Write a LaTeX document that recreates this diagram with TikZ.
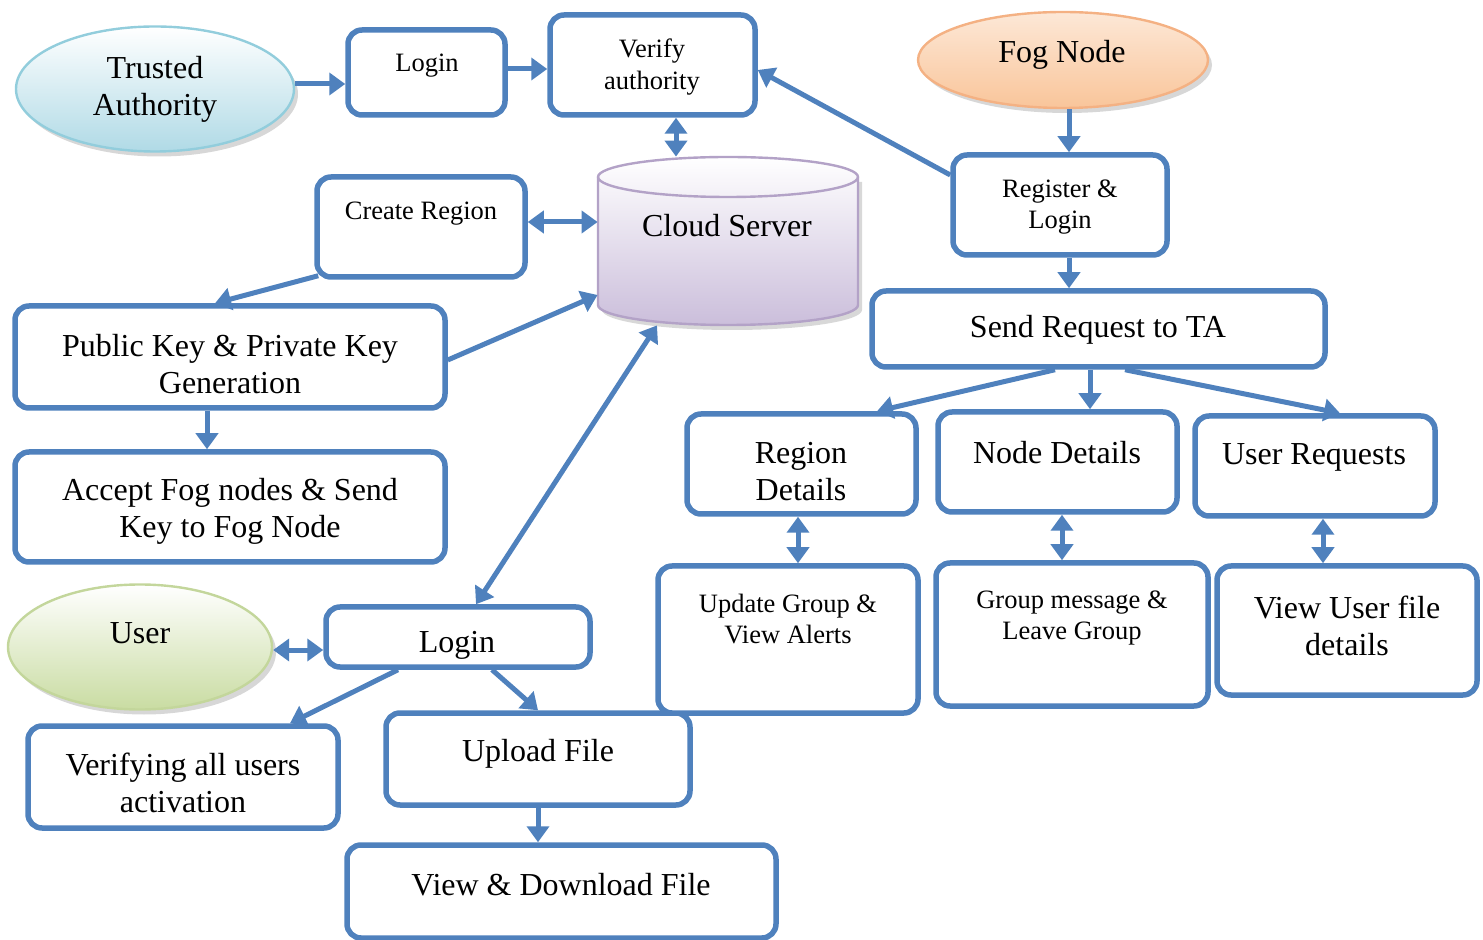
\documentclass[tikz,border=0pt]{standalone}
\usepackage{fontspec}
\setmainfont{Liberation Serif}
\usetikzlibrary{arrows.meta,shapes.geometric,fit,shadows}
\definecolor{blu}{HTML}{4F81BD}
\definecolor{tadraw}{HTML}{92CDDC}
\definecolor{tafill}{HTML}{B0DAE6}
\definecolor{fogdraw}{HTML}{F4B183}
\definecolor{fogfill}{HTML}{F9C59A}
\definecolor{usrdraw}{HTML}{C3D69B}
\definecolor{usrfill}{HTML}{C9DCA2}
\definecolor{cyldraw}{HTML}{B3A2C7}
\definecolor{cylfill}{HTML}{CBBEDB}
\begin{document}
\begin{tikzpicture}[x=0.5pt,y=-0.5pt,
  box/.style={draw=blu, line width=2.75pt, rounded corners=7pt, fill=white, inner sep=0pt},
  bigt/.style={font=\fontsize{16}{18.5}\selectfont, align=center, inner sep=0pt, yshift=-1.5pt},
  smallt/.style={font=\fontsize{13.25}{15.75}\selectfont, align=center, inner sep=0pt, yshift=-1.5pt},
  arr/.style={draw=blu, line width=2.5pt, -{Triangle[length=8pt,width=11pt]}},
  darr/.style={draw=blu, line width=2.5pt, {Triangle[length=8pt,width=11pt]}-{Triangle[length=8pt,width=11pt]}},
  oval/.style={ellipse, line width=1.2pt, inner sep=0pt,
    drop shadow={shadow xshift=2pt, shadow yshift=-2.5pt, fill=gray!70, opacity=0.45}}
]
\useasboundingbox (0,0) rectangle (1483,940);

% ellipses
\node[oval, draw=tadraw, top color=white, bottom color=tafill, minimum width=139pt, minimum height=62.5pt, bigt, yshift=1.5pt] (ta) at (155,89) {Trusted\\Authority};
\node[oval, draw=fogdraw, top color=white!60!fogfill, bottom color=fogfill, minimum width=145pt, minimum height=48pt] (fog) at (1063,60) {};
\node[bigt] (fogt) at (1062,52) {Fog Node};
\node[oval, draw=usrdraw, top color=white, bottom color=usrfill, minimum width=132pt, minimum height=62.5pt] (user) at (140,647) {};
\node[bigt] (usert) at (140,630) {User};

% cloud server cylinder
\node[inner sep=0pt, minimum width=130pt, minimum height=84pt] (cs) at (728,241) {};
\fill[gray!60, opacity=0.5] (602,182) -- (602,310) arc[start angle=180, end angle=0, x radius=130, y radius=20] -- (862,182) -- cycle;
\draw[cyldraw, line width=1.2pt, top color=white, bottom color=cylfill]
  (598,177) -- (598,305) arc[start angle=180, end angle=0, x radius=130, y radius=20]
  -- (858,177) arc[start angle=0, end angle=-180, x radius=130, y radius=20] -- cycle;
\draw[cyldraw, line width=1.2pt] (598,177) arc[start angle=180, end angle=0, x radius=130, y radius=20];
\node[bigt] (cst) at (727,223) {Cloud Server};

% boxes
\node[box, fit={(348,30) (505,115)}] (login1) {};
\node[smallt] (login1t) at (427,63) {Login};
\node[box, fit={(550,15) (755,115)}] (verify) {};
\node[smallt] (verifyt) at (652,64) {Verify\\authority};
\node[box, fit={(953,155) (1167,255)}] (reg) {};
\node[smallt] (regt) at (1060,204) {Register \&\\Login};
\node[box, fit={(872,291) (1325,367)}] (send) {};
\node[bigt] (sendt) at (1098,327) {Send Request to TA};
\node[box, fit={(317,177) (525,277)}] (create) {};
\node[smallt] (createt) at (421,211) {Create Region};
\node[box, fit={(15,306) (445,408)}] (pub) {};
\node[bigt] (pubt) at (230,361) {Public Key \& Private Key\\Generation};
\node[box, fit={(15,452) (445,562)}] (acc) {};
\node[bigt] (acct) at (230,508) {Accept Fog nodes \& Send\\Key to Fog Node};
\node[box, fit={(326,607) (590,667)}] (loginu) {};
\node[bigt] (loginut) at (457,642) {Login};
\node[box, fit={(28,726) (338,828)}] (verif) {};
\node[bigt] (veriftt) at (183,780) {Verifying all users\\activation};
\node[box, fit={(386,713) (690,805)}] (upload) {};
\node[bigt] (uploadt) at (538,751) {Upload File};
\node[box, fit={(347,845) (776,938)}] (viewdl) {};
\node[bigt] (viewdlt) at (561,882) {View \& Download File};
\node[box, fit={(687,414) (916,514)}] (region) {};
\node[bigt] (regiont) at (801,469) {Region\\Details};
\node[box, fit={(938,412) (1177,512)}] (noded) {};
\node[bigt] (nodedt) at (1057,450) {Node Details};
\node[box, fit={(1195,416) (1435,516)}] (ureq) {};
\node[bigt] (ureqt) at (1314,454) {User Requests};
\node[box, fit={(658,566) (918,713)}] (update) {};
\node[smallt] (updatet) at (788,616) {Update Group \&\\View Alerts};
\node[box, fit={(936,563) (1208,706)}] (gmsg) {};
\node[smallt] (gmsgt) at (1072,615) {Group message \&\\Leave Group};
\node[box, fit={(1217,566) (1477,695)}] (vuser) {};
\node[bigt] (vusert) at (1347,623) {View User file\\details};

% connectors
\draw[arr] (ta.east |- 0,84) -- (login1.west |- 0,84);
\draw[arr] (login1.east |- 0,69) -- (verify.west |- 0,69);
\draw[darr] (verify.south -| 676,0) -- (cs.north -| 676,0);
\draw[arr] (reg.west |- 0,175) -- (verify.east |- 0,70);
\draw[arr] (fog.south -| 1069,0) -- (reg.north -| 1069,0);
\draw[arr] (reg.south -| 1069,0) -- (send.north -| 1069,0);
\draw[arr] (send.south -| 1055,0) -- (region.north -| 877,0);
\draw[arr] (send.south -| 1090,0) -- (noded.north -| 1090,0);
\draw[arr] (send.south -| 1125,0) -- (ureq.north -| 1340,0);
\draw[darr] (region.south -| 798,0) -- (update.north -| 798,0);
\draw[darr] (noded.south -| 1062,0) -- (gmsg.north -| 1062,0);
\draw[darr] (ureq.south -| 1323,0) -- (vuser.north -| 1323,0);
\draw[darr] (create.east |- 0,222) -- (cs.west |- 0,222);
\draw[arr] (create.south west) ++(4,-4) -- (pub.north -| 215,0);
\draw[arr] (pub.east |- 0,360) -- (cs.west |- 0,295);
\draw[arr] (pub.south -| 207,0) -- (acc.north -| 207,0);
\draw[darr] (loginu.north -| 476,0) -- (cs.south -| 657,0);
\draw[darr] (user.east |- 0,650) -- (loginu.west |- 0,650);
\draw[arr] (loginu.south -| 398,0) -- (verif.north -| 290,0);
\draw[arr] (loginu.south -| 492,0) -- (upload.north -| 538,0);
\draw[arr] (upload.south -| 538,0) -- (viewdl.north -| 538,0);
\end{tikzpicture}
\end{document}
